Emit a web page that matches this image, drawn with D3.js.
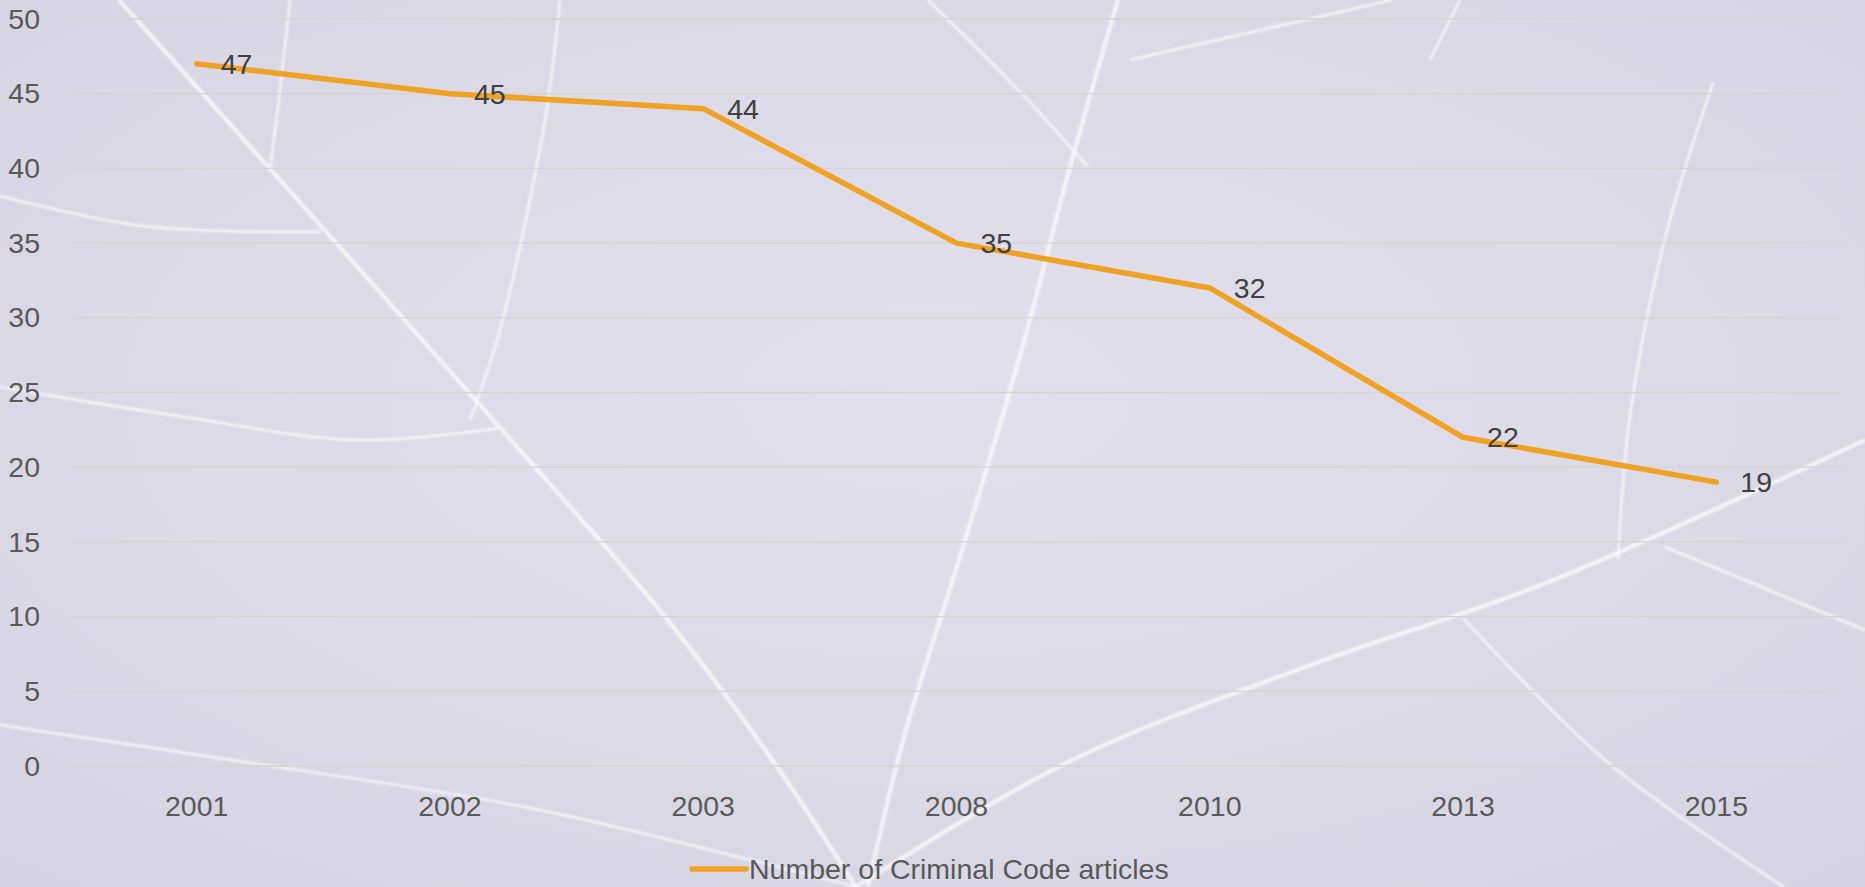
<!DOCTYPE html>
<html>
<head>
<meta charset="utf-8">
<script src="https://cdn.jsdelivr.net/npm/d3@7"></script>
<style>
  body { margin: 0; overflow: hidden; background: #dddbe8; }
  svg text { font-family: "Liberation Sans", Arial, sans-serif; }
</style>
</head>
<body>
<div id="chart"></div>
<script>
// data
var years = ["2001", "2002", "2003", "2008", "2010", "2013", "2015"];
var articles = [47, 45, 44, 35, 32, 22, 19];
var yTicks = [0, 5, 10, 15, 20, 25, 30, 35, 40, 45, 50];
var seriesName = "Number of Criminal Code articles";

var width = 1865, height = 887;
var margin = { top: 19, right: 22, bottom: 121, left: 70 };
var plotW = width - margin.left - margin.right,
    plotH = height - margin.top - margin.bottom;
var fontSize = "28.5px";

var svg = d3.select("#chart")
    .append("svg")
    .attr("width", width)
    .attr("height", height);

// background, a leaf-ish texture
var defs = svg.append("defs");
var grad = defs.append("radialGradient").attr("id", "bg").attr("cx", "50%").attr("cy", "45%").attr("r", "75%");
grad.append("stop").attr("offset", "0%").attr("stop-color", "#e2e0ec");
grad.append("stop").attr("offset", "100%").attr("stop-color", "#d6d4e2");
defs.append("filter").attr("id", "soft")
    .append("feGaussianBlur").attr("stdDeviation", 0.8);
svg.append("rect").attr("width", width).attr("height", height).attr("fill", "url(#bg)");

var veins = [
    [[119,0],[321,226],[511,440],[666,618],[773,761],[856,887]],
    [[1118,0],[1070,167],[1023,345],[963,547],[904,737],[868,887]],
    [[856,887],[1070,761],[1308,666],[1546,583],[1865,440]],
    [[0,196],[143,226],[321,232]],
    [[0,387],[178,416],[357,440],[500,428]],
    [[0,725],[238,761],[535,809],[856,887]],
    [[928,0],[1023,95],[1088,167]],
    [[1130,60],[1392,0]],
    [[1713,83],[1665,238],[1630,416],[1618,559]],
    [[1665,547],[1865,630]],
    [[1463,618],[1606,761],[1784,887]],
    [[290,0],[280,90],[270,170]],
    [[560,0],[545,120],[500,330],[470,420]],
    [[1460,0],[1430,60]]
];
var veinLine = d3.line().curve(d3.curveCatmullRom);
svg.append("g")
    .attr("filter", "url(#soft)")
    .selectAll("path")
    .data(veins)
    .enter()
    .append("path")
    .attr("d", veinLine)
    .attr("fill", "none")
    .attr("stroke", "#ffffff")
    .attr("stroke-opacity", 0.7)
    .attr("stroke-width", function (d, i) { return i < 3 ? 4 : 2.5; });

var g = svg.append("g")
    .attr("transform", "translate(" + margin.left + "," + margin.top + ")");

// scales
var xScale = d3.scaleBand()
    .domain(years)
    .range([0, plotW]);

var yScale = d3.scaleLinear()
    .domain([0, 50])
    .range([plotH, 0]);

// gridlines
g.append("g")
    .selectAll("line")
    .data(yTicks)
    .enter()
    .append("line")
    .attr("x1", 0)
    .attr("x2", plotW)
    .attr("y1", d => yScale(d))
    .attr("y2", d => yScale(d))
    .attr("stroke", "#d4d4d4")
    .attr("stroke-width", 1.3);

// y axis
var yAxis = g.append("g")
    .call(d3.axisLeft(yScale).tickValues(yTicks).tickSize(0).tickPadding(30));
yAxis.select(".domain").remove();
yAxis.selectAll("text")
    .style("font-size", fontSize)
    .attr("fill", "#595959");

// x axis
var xAxis = g.append("g")
    .attr("transform", "translate(0," + plotH + ")")
    .call(d3.axisBottom(xScale).tickSize(0).tickPadding(30));
xAxis.select(".domain").remove();
xAxis.selectAll("text")
    .style("font-size", fontSize)
    .attr("fill", "#595959");

var data = years.map(function (y, i) { return { year: y, value: articles[i] }; });

// line
var line = d3.line()
    .x(d => xScale(d.year) + xScale.bandwidth() / 2)
    .y(d => yScale(d.value));

g.append("path")
    .datum(data)
    .attr("d", line)
    .attr("fill", "none")
    .attr("stroke", "#f0a224")
    .attr("stroke-width", 5.5)
    .attr("stroke-linejoin", "round")
    .attr("stroke-linecap", "round");

// data labels
g.selectAll(".label")
    .data(data)
    .enter()
    .append("text")
    .attr("class", "label")
    .attr("x", d => xScale(d.year) + xScale.bandwidth() / 2 + 24)
    .attr("y", d => yScale(d.value))
    .attr("dy", "0.35em")
    .style("font-size", fontSize)
    .attr("fill", "#404040")
    .text(d => d.value);

// legend
var legend = svg.append("g")
    .attr("transform", "translate(692,869)");
legend.append("line")
    .attr("x1", 0)
    .attr("x2", 54)
    .attr("stroke", "#f0a224")
    .attr("stroke-width", 5.5)
    .attr("stroke-linecap", "round");
legend.append("text")
    .attr("x", 57)
    .attr("dy", "0.35em")
    .style("font-size", fontSize)
    .attr("fill", "#595959")
    .text(seriesName);
</script>
</body>
</html>
